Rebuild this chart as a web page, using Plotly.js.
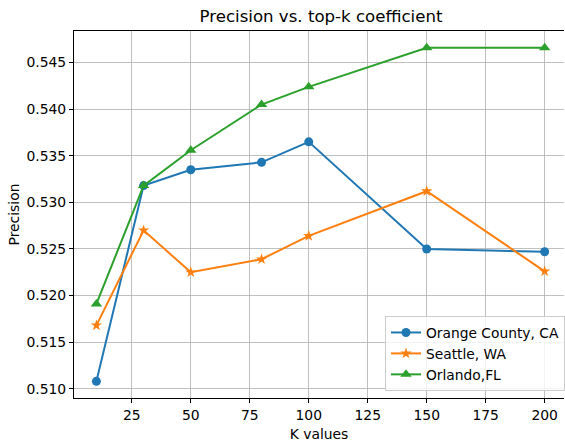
<!DOCTYPE html>
<html>
<head>
<meta charset="utf-8">
<script src="https://cdn.plot.ly/plotly-3.0.1.min.js"></script>
<style>html,body{margin:0;padding:0;background:#fff;}#chart{width:565px;height:442px;}</style>
</head>
<body>
<div id="chart"></div>
<script>
const kValues = [10, 30, 50, 80, 100, 150, 200];
const orangeCounty = [0.5108, 0.5318, 0.5335, 0.5343, 0.5365, 0.5250, 0.5247];
const seattle = [0.5168, 0.5270, 0.5225, 0.5239, 0.5264, 0.5312, 0.5226];
const orlando = [0.5191, 0.5318, 0.5356, 0.5405, 0.5424, 0.5466, 0.5466];
const seriesNames = ['Orange County, CA', 'Seattle, WA', 'Orlando,FL'];
const xTicks = [25, 50, 75, 100, 125, 150, 175, 200];
const yTicks = [0.510, 0.515, 0.520, 0.525, 0.530, 0.535, 0.540, 0.545];

const font = 'DejaVu Sans, sans-serif';
const traces = [
  {x: kValues, y: orangeCounty, name: seriesNames[0], mode: 'lines+markers',
   line: {color: '#1f77b4', width: 2}, marker: {symbol: 'circle', size: 9, color: '#1f77b4'}},
  {x: kValues, y: seattle, name: seriesNames[1], mode: 'lines+markers',
   line: {color: '#ff7f0e', width: 2}, marker: {symbol: 'star', size: 8.5, color: '#ff7f0e'}},
  {x: kValues, y: orlando, name: seriesNames[2], mode: 'lines+markers',
   line: {color: '#2ca02c', width: 2}, marker: {symbol: 'triangle-up', size: 10, color: '#2ca02c'}}
];

const layout = {
  width: 565, height: 442,
  margin: {l: 74, r: 0, t: 31, b: 44},
  paper_bgcolor: '#fff', plot_bgcolor: '#fff',
  font: {family: font, size: 13.9, color: '#000'},
  title: {text: 'Precision vs. top-k coefficient', font: {family: font, size: 16.6, color: '#000'},
          x: 321/565, xanchor: 'center', y: 1 - 16.5/442, yanchor: 'middle', xref: 'container', yref: 'container'},
  xaxis: {
    range: [0.5, 208.2], tickvals: xTicks, ticktext: xTicks.map(String),
    showgrid: true, gridcolor: '#b0b0b0', gridwidth: 0.8,
    showline: true, linecolor: '#000', linewidth: 1, mirror: true,
    ticks: 'outside', ticklen: 4, tickcolor: '#000', zeroline: false,
    tickfont: {family: font, size: 13.9, color: '#000'},
    title: {text: 'K values', font: {family: font, size: 13.9, color: '#000'}, standoff: 8}
  },
  yaxis: {
    range: [0.50901, 0.54839], tickvals: yTicks, ticktext: yTicks.map(v => v.toFixed(3)),
    showgrid: true, gridcolor: '#b0b0b0', gridwidth: 0.8,
    showline: true, linecolor: '#000', linewidth: 1, mirror: false,
    ticks: 'outside', ticklen: 4, tickcolor: '#000', zeroline: false,
    tickfont: {family: font, size: 13.9, color: '#000'},
    title: {text: 'Precision', font: {family: font, size: 13.9, color: '#000'}, standoff: 3}
  },
  showlegend: true,
  legend: {
    x: (566 - 74) / 491, xanchor: 'right', y: 7 / 367, yanchor: 'bottom',
    bgcolor: 'rgba(255,255,255,0.8)', bordercolor: '#cccccc', borderwidth: 1,
    font: {family: font, size: 13.8, color: '#000'}, tracegroupgap: 0
  }
};

Plotly.newPlot('chart', traces, layout, {displayModeBar: false, staticPlot: true});
</script>
</body>
</html>
